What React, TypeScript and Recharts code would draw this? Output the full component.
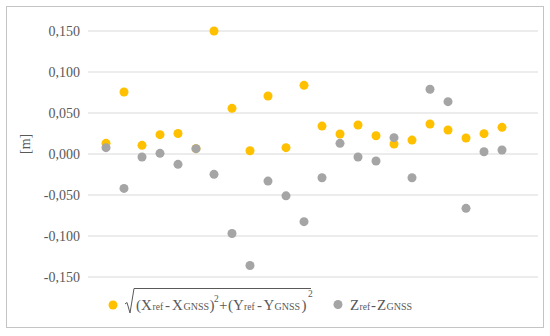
import { ScatterChart, Scatter, XAxis, YAxis, CartesianGrid, Legend, Label } from "recharts";

const pointNo = [1, 2, 3, 4, 5, 6, 7, 8, 9, 10, 11, 12, 13, 14, 15, 16, 17, 18, 19, 20, 21, 22, 23];
const horizDiff = [0.013, 0.0756, 0.0106, 0.0236, 0.025, 0.0065, 0.15, 0.0557, 0.004, 0.0707, 0.0077, 0.0837, 0.034, 0.0244, 0.0354, 0.0223, 0.0122, 0.017, 0.0366, 0.0293, 0.0195, 0.0248, 0.0325];
const vertDiff = [0.0077, -0.042, -0.0037, 0.0008, -0.0126, 0.0065, -0.0248, -0.097, -0.136, -0.033, -0.051, -0.0825, -0.029, 0.013, -0.0037, -0.0085, 0.0199, -0.029, 0.0789, 0.0638, -0.0663, 0.0028, 0.0049];
const yTicks = [-0.15, -0.1, -0.05, 0, 0.05, 0.1, 0.15];

const horizData = pointNo.map((x, i) => ({ x, y: horizDiff[i] }));
const vertData = pointNo.map((x, i) => ({ x, y: vertDiff[i] }));

const YELLOW = "#FFC000";
const GRAY = "#A5A5A5";
const TEXT = "#595959";
const FONT = "'Liberation Serif', 'Times New Roman', serif";

const fmt = (v: number) => v.toFixed(3).replace(".", ",");

const dot = (color: string) => (props: any) => (
  <circle cx={props.cx} cy={props.cy} r={4.5} fill={color} />
);

const YTick = (props: any) => (
  <text x={props.x} y={props.y} dy={5} textAnchor="end" fill={TEXT} fontSize={14} style={{ fontFamily: FONT }}>
    {fmt(props.payload.value)}
  </text>
);

function LegendBox() {
  // legend drawn in its own svg, y offset 280 on the page
  return (
    <svg width={550} height={44} style={{ display: "block" }}>
      <circle cx={113} cy={25} r={4.5} fill={YELLOW} />
      <path d="M125,24 L127,22.5 L130,33 L134,8.5 L311,8.5" fill="none" stroke={TEXT} strokeWidth={1} />
      <text y={30} fill={TEXT} fontSize={15} style={{ fontFamily: FONT }}>
        <tspan x={136}>(X</tspan>
        <tspan x={152.5} fontSize={9.5}>ref</tspan>
        <tspan x={165}>-</tspan>
        <tspan x={172}>X</tspan>
        <tspan x={183.5} fontSize={10}>GNSS</tspan>
        <tspan x={209.5}>)</tspan>
        <tspan x={214} y={22} fontSize={9.5}>2</tspan>
        <tspan x={219} y={30}>+</tspan>
        <tspan x={228}>(Y</tspan>
        <tspan x={244} fontSize={9.5}>ref</tspan>
        <tspan x={257}>-</tspan>
        <tspan x={263.5}>Y</tspan>
        <tspan x={274.5} fontSize={10}>GNSS</tspan>
        <tspan x={301.5}>)</tspan>
        <tspan x={308} y={17} fontSize={9.5}>2</tspan>
      </text>
      <circle cx={338} cy={24.5} r={4.5} fill={GRAY} />
      <text y={30} fill={TEXT} fontSize={15} style={{ fontFamily: FONT }}>
        <tspan x={350}>Z</tspan>
        <tspan x={359.5} fontSize={9.5}>ref</tspan>
        <tspan x={371}>-</tspan>
        <tspan x={377}>Z</tspan>
        <tspan x={386.5} fontSize={10}>GNSS</tspan>
      </text>
    </svg>
  );
}

export default function App() {
  return (
    <div style={{ position: "absolute", left: 0, top: 0, width: 550, height: 336, background: "#fff", fontFamily: FONT }}>
      <ScatterChart width={550} height={336} margin={{ top: 31, right: 12, bottom: 15, left: 8 }}>
        <CartesianGrid vertical={false} stroke="#D9D9D9" strokeWidth={1} />
        <XAxis type="number" dataKey="x" domain={[0, 25]} hide />
        <YAxis
          type="number"
          dataKey="y"
          domain={[-0.15, 0.15]}
          ticks={yTicks}
          width={80}
          axisLine={false}
          tickLine={false}
          tick={<YTick />}
        >
          <Label value="[m]" angle={-90} position="insideLeft" offset={17} fill={TEXT} fontSize={14} style={{ fontFamily: FONT }} />
        </YAxis>
        <Scatter data={horizData} fill={YELLOW} shape={dot(YELLOW)} isAnimationActive={false} />
        <Scatter data={vertData} fill={GRAY} shape={dot(GRAY)} isAnimationActive={false} />
        <Legend content={() => <LegendBox />} wrapperStyle={{ left: 0, top: 280, width: 550, height: 44 }} />
      </ScatterChart>
      <div
        style={{
          position: "absolute",
          left: 6,
          top: 6,
          width: 536,
          height: 320,
          border: "1.5px solid #C4C4C4",
          pointerEvents: "none",
        }}
      />
    </div>
  );
}
